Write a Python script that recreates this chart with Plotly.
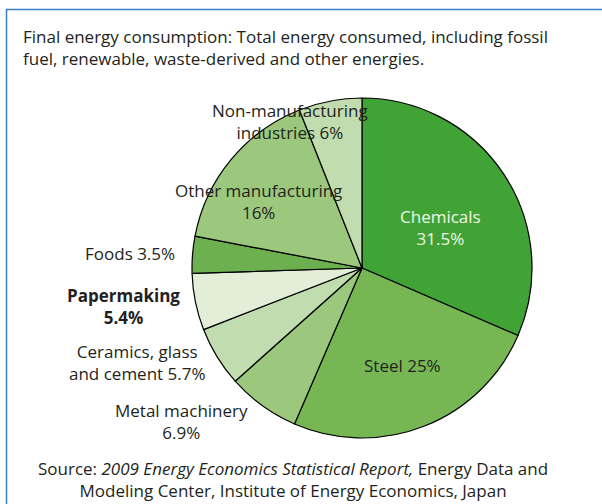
import plotly.graph_objects as go

categories = ["Chemicals", "Steel", "Metal machinery", "Ceramics, glass and cement",
              "Papermaking", "Foods", "Other manufacturing", "Non-manufacturing industries"]
shares = [31.5, 25, 6.9, 5.7, 5.4, 3.5, 16, 6]
colors = ["#41a336", "#76b754", "#9bc87c", "#c1dcae", "#e2eed8", "#6db04f", "#9bc87c", "#c1dcae"]

label_texts = [
    "Chemicals<br>31.5%",
    "Steel 25%",
    "Metal machinery<br>6.9%",
    "Ceramics, glass<br>and cement 5.7%",
    "<b>Papermaking<br>5.4%</b>",
    "Foods 3.5%",
    "Other manufacturing<br>16%",
    "Non-manufacturing<br>industries 6%",
]
# label centre positions in pixels (x, y from top)
label_pos = [(440, 228), (402, 365), (181, 421), (137, 362), (123, 306), (130, 253), (258, 201), (290, 121)]
label_colors = ["#eef6e8"] + ["#231f20"] * 7

W, H = 602, 504
cx, cy, r = 362, 268, 170

fig = go.Figure(go.Pie(
    labels=categories, values=shares, sort=False, direction="clockwise", rotation=0,
    marker=dict(colors=colors, line=dict(color="#000000", width=1.2)),
    textinfo="none", hoverinfo="label+percent", showlegend=False,
    domain=dict(x=[(cx - r) / W, (cx + r) / W], y=[1 - (cy + r) / H, 1 - (cy - r) / H]),
))

font_family = "Open Sans, Noto Sans, sans-serif"
FS = 17
annotations = []
for t, (x, y), c in zip(label_texts, label_pos, label_colors):
    annotations.append(dict(text=t, x=x / W, y=1 - y / H, xref="paper", yref="paper",
                            showarrow=False, align="center", xanchor="center", yanchor="middle",
                            font=dict(size=FS, color=c, family=font_family)))

annotations.append(dict(
    text="Final energy consumption: Total energy consumed, including fossil<br>fuel, renewable, waste-derived and other energies.",
    x=21 / W, y=1 - 47 / H, xref="paper", yref="paper", showarrow=False, align="left",
    xanchor="left", yanchor="middle", font=dict(size=FS, color="#231f20", family=font_family)))
annotations.append(dict(
    text="Source: <i>2009 Energy Economics Statistical Report,</i> Energy Data and<br>Modeling Center, Institute of Energy Economics, Japan",
    x=293 / W, y=1 - 479 / H, xref="paper", yref="paper", showarrow=False, align="center",
    xanchor="center", yanchor="middle", font=dict(size=FS, color="#231f20", family=font_family)))

shapes = [
    dict(type="line", xref="paper", yref="paper", x0=6 / W, x1=1, y0=1 - 9.5 / H, y1=1 - 9.5 / H,
         line=dict(color="#3a7ec8", width=1.5)),
    dict(type="line", xref="paper", yref="paper", x0=6.5 / W, x1=6.5 / W, y0=0, y1=1 - 9 / H,
         line=dict(color="#3a7ec8", width=1.5)),
]

fig.update_layout(width=W, height=H, margin=dict(l=0, r=0, t=0, b=0),
                  paper_bgcolor="white", plot_bgcolor="white",
                  annotations=annotations, shapes=shapes)
fig.write_html("out.html", config={"displayModeBar": False},
               post_script="document.body.style.margin='0';document.body.style.overflow='hidden';")
